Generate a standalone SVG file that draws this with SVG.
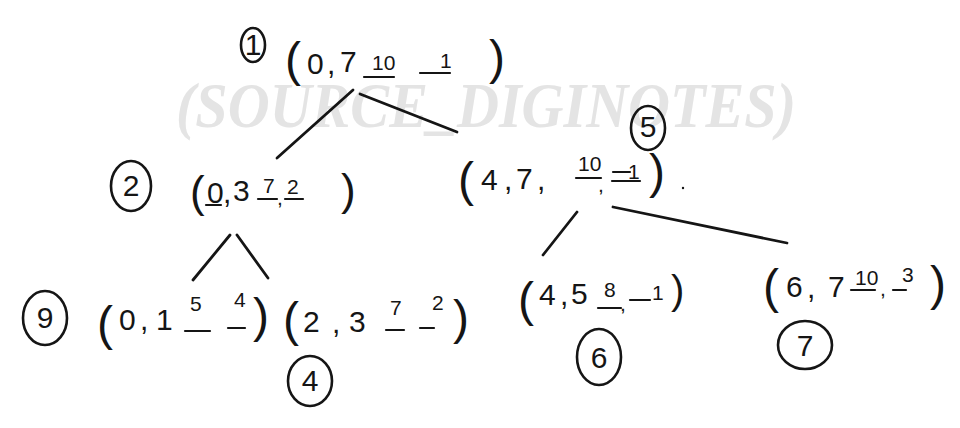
<svg xmlns="http://www.w3.org/2000/svg" width="960" height="428" viewBox="0 0 960 428">
<style>
.wm{font-family:"Liberation Serif",serif;font-weight:bold;font-style:italic;font-size:64px;fill:#e4e4e4}
.t{font-family:"Liberation Sans","DejaVu Sans",sans-serif;fill:#151515}
.p{font-size:48px}
.n{font-size:30px}
.s{font-size:21px}
.u{stroke:#151515;stroke-width:2.2;stroke-linecap:round;fill:none}
.c{stroke:#151515;stroke-width:2.6;fill:none}
.e{stroke:#151515;stroke-width:2.8;stroke-linecap:round;fill:none}
</style>
<rect width="960" height="428" fill="#fff"/>
<text class="wm" x="176" y="127" textLength="620" lengthAdjust="spacingAndGlyphs">(SOURCE_DIGINOTES)</text>

<g id="connectors">
<line class="e" x1="353" y1="90" x2="277" y2="158"/>
<line class="e" x1="360" y1="94" x2="457" y2="132"/>
<line class="e" x1="230" y1="235" x2="193" y2="280"/>
<line class="e" x1="237" y1="235" x2="268" y2="278"/>
<line class="e" x1="577" y1="212" x2="543" y2="255"/>
<line class="e" x1="613" y1="207" x2="787" y2="243"/>
</g>

<g id="node1">
<ellipse class="c" cx="253" cy="45" rx="12" ry="17"/>
<text class="t n" x="253" y="55" text-anchor="middle" font-size="24">1</text>
<text class="t p" x="285" y="76">(</text>
<text class="t n" x="307" y="74">0</text>
<text class="t n" x="327" y="74">,</text>
<text class="t n" x="340" y="72">7</text>
<text class="t s" x="372" y="70">10</text>
<line class="u" x1="364" y1="77" x2="394" y2="77"/>
<line class="u" x1="420" y1="73" x2="450" y2="73"/>
<text class="t s" x="440" y="68">1</text>
<text class="t p" x="489" y="74">)</text>
</g>

<g id="node2">
<ellipse class="c" cx="131" cy="186" rx="20" ry="25"/>
<text class="t n" x="131" y="196" text-anchor="middle" font-size="26">2</text>
<text class="t" x="190" y="207" font-size="44">(</text>
<text class="t n" x="207" y="203" font-size="26">0</text>
<line class="u" x1="206" y1="205" x2="221" y2="205"/>
<text class="t n" x="223" y="203" font-size="26">,</text>
<text class="t n" x="233" y="201" font-size="26">3</text>
<text class="t s" x="263" y="193">7</text>
<line class="u" x1="258" y1="199" x2="277" y2="199"/>
<text class="t s" x="277" y="205">,</text>
<text class="t s" x="287" y="194">2</text>
<line class="u" x1="285" y1="199" x2="303" y2="199"/>
<text class="t" x="341" y="205" font-size="44">)</text>
</g>

<g id="node5">
<ellipse class="c" cx="648" cy="128" rx="17" ry="22"/>
<text class="t n" x="648" y="137" text-anchor="middle" font-size="24">5</text>
<text class="t p" x="458" y="196">(</text>
<text class="t n" x="481" y="190">4</text>
<text class="t n" x="504" y="190">,</text>
<text class="t n" x="516" y="189">7</text>
<text class="t n" x="537" y="190">,</text>
<text class="t s" x="578" y="171">10</text>
<line class="u" x1="576" y1="178" x2="601" y2="178"/>
<text class="t s" x="598" y="192">,</text>
<line class="u" x1="613" y1="172" x2="630" y2="172"/>
<line class="u" x1="612" y1="181" x2="640" y2="181"/>
<text class="t s" x="628" y="179">1</text>
<text class="t p" x="649" y="188">)</text>
<circle cx="683" cy="188" r="1.2" fill="#151515"/>
</g>

<g id="node9">
<ellipse class="c" cx="45" cy="318" rx="22" ry="27"/>
<text class="t n" x="45" y="328" text-anchor="middle" font-size="28">9</text>
<text class="t p" x="97" y="340">(</text>
<text class="t n" x="119" y="330">0</text>
<text class="t n" x="140" y="330">,</text>
<text class="t n" x="156" y="330">1</text>
<text class="t s" x="190" y="311">5</text>
<line class="u" x1="185" y1="331" x2="210" y2="331"/>
<text class="t s" x="234" y="307">4</text>
<line class="u" x1="228" y1="328" x2="245" y2="328"/>
<text class="t p" x="253" y="332">)</text>
</g>

<g id="node4">
<ellipse class="c" cx="310" cy="381" rx="22" ry="25"/>
<text class="t n" x="310" y="391" text-anchor="middle" font-size="28">4</text>
<text class="t p" x="283" y="336">(</text>
<text class="t n" x="303" y="332">2</text>
<text class="t n" x="332" y="333">,</text>
<text class="t n" x="349" y="332">3</text>
<text class="t s" x="390" y="315">7</text>
<line class="u" x1="386" y1="330" x2="404" y2="330"/>
<text class="t s" x="432" y="310">2</text>
<line class="u" x1="420" y1="328" x2="434" y2="328"/>
<text class="t p" x="453" y="334">)</text>
</g>

<g id="node6">
<ellipse class="c" cx="599" cy="357" rx="22" ry="28"/>
<text class="t n" x="599" y="368" text-anchor="middle" font-size="30">6</text>
<text class="t p" x="518" y="316">(</text>
<text class="t n" x="539" y="305">4</text>
<text class="t n" x="560" y="305">,</text>
<text class="t n" x="571" y="304">5</text>
<text class="t s" x="604" y="297">8</text>
<line class="u" x1="598" y1="308" x2="621" y2="308"/>
<text class="t s" x="620" y="311">,</text>
<line class="u" x1="630" y1="300" x2="650" y2="300"/>
<text class="t s" x="652" y="300">1</text>
<text class="t" x="671" y="304" font-size="40">)</text>
</g>

<g id="node7">
<ellipse class="c" cx="805" cy="345" rx="27" ry="24"/>
<text class="t n" x="805" y="356" text-anchor="middle" font-size="30">7</text>
<text class="t p" x="763" y="303">(</text>
<text class="t n" x="786" y="297">6</text>
<text class="t n" x="807" y="298">,</text>
<text class="t n" x="828" y="297">7</text>
<text class="t s" x="855" y="285">10</text>
<line class="u" x1="851" y1="290" x2="875" y2="290"/>
<text class="t s" x="880" y="296">,</text>
<line class="u" x1="893" y1="290" x2="906" y2="290"/>
<text class="t s" x="902" y="282">3</text>
<text class="t p" x="930" y="300">)</text>
</g>
</svg>
